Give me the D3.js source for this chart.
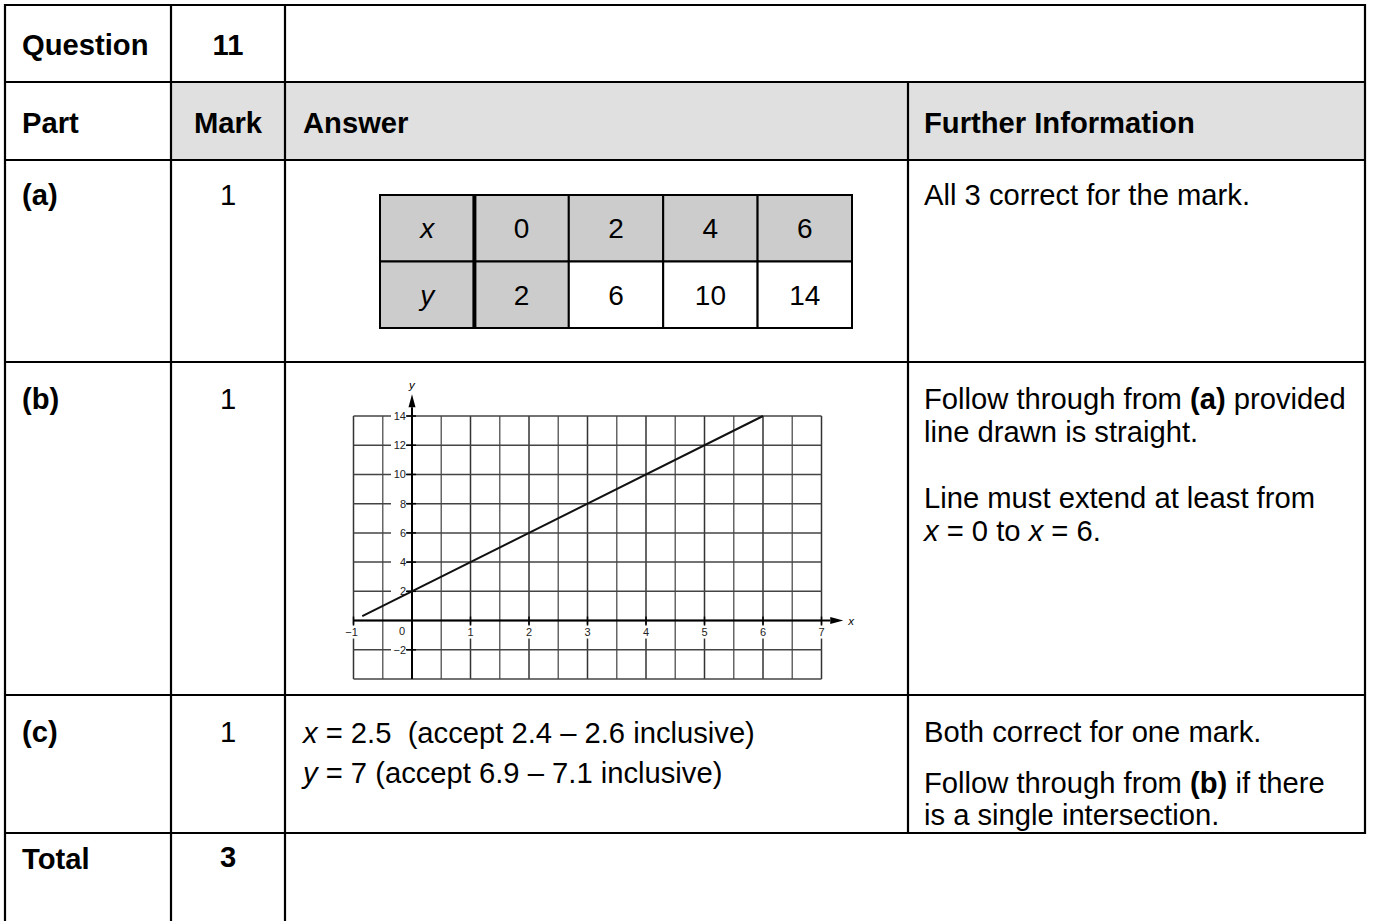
<!DOCTYPE html>
<html><head><meta charset="utf-8">
<script src="https://cdn.jsdelivr.net/npm/d3@7"></script>
<style>
body{margin:0;background:#fff;}
svg text{font-family:"Liberation Sans",Arial,sans-serif;white-space:pre;}
</style></head>
<body><svg id="c" width="1373" height="921"></svg>
<script>
// ---- data ----
const tableX = [0, 2, 4, 6];
const tableY = [2, 6, 10, 14];
const lineX = [-0.85, 6];
const lineY = [0.3, 14];
const xTicks = [-1, 0, 1, 2, 3, 4, 5, 6, 7];
const yTicks = [-2, 2, 4, 6, 8, 10, 12, 14];
const marks = ["1", "1", "1"];
const totalMark = "3";

const svg = d3.select("#c");
const FS = 29.2;
const black = "#000";

// ---- main table structure ----
const L = 5, R = 1365;
const colX = [L, 171, 285, 908, R];
const rowY = [5, 82, 160, 362, 695, 833, 921];

svg.append("rect").attr("x", colX[1]).attr("y", rowY[1]).attr("width", R - colX[1]).attr("height", rowY[2] - rowY[1]).attr("fill", "#e0e0e0");

function hline(y, x1, x2){ svg.append("line").attr("x1",x1).attr("x2",x2).attr("y1",y).attr("y2",y).attr("stroke",black).attr("stroke-width",2.2); }
function vline(x, y1, y2){ svg.append("line").attr("x1",x).attr("x2",x).attr("y1",y1).attr("y2",y2).attr("stroke",black).attr("stroke-width",2.2); }
rowY.slice(0,6).forEach(y => hline(y, L-1, R+1));
vline(L, rowY[0]-1, 921);
vline(colX[1], rowY[0]-1, 921);
vline(colX[2], rowY[0]-1, 921);
vline(colX[3], rowY[1], rowY[5]);
vline(R, rowY[0]-1, rowY[5]+1);

function txt(x, y, s, opts={}){
  const t = svg.append("text").attr("x", x).attr("y", y).attr("font-size", opts.fs || FS)
    .attr("fill", "#000").attr("text-anchor", opts.anchor || "start");
  if (opts.bold) t.attr("font-weight", "bold");
  if (opts.italic) t.attr("font-style", "italic");
  t.text(s);
  return t;
}
function rich(x, y, parts){
  const t = svg.append("text").attr("x", x).attr("y", y).attr("font-size", FS).attr("fill","#000");
  parts.forEach(p => {
    const ts = t.append("tspan").text(p[0]);
    if (p[1] === "b") ts.attr("font-weight","bold");
    if (p[1] === "i") ts.attr("font-style","italic");
  });
}

const midMark = (colX[1] + colX[2]) / 2;
txt(22, 55, "Question", {bold:true});
txt(midMark, 55, "11", {bold:true, anchor:"middle"});
txt(22, 133, "Part", {bold:true});
txt(midMark, 133, "Mark", {bold:true, anchor:"middle"});
txt(303, 133, "Answer", {bold:true});
txt(924, 133, "Further Information", {bold:true});

txt(22, 205, "(a)", {bold:true});
txt(22, 409, "(b)", {bold:true});
txt(22, 742, "(c)", {bold:true});
txt(22, 869, "Total", {bold:true});
[205, 409, 742].forEach((y, i) => txt(midMark, y, marks[i], {anchor:"middle"}));
txt(midMark, 867, totalMark, {bold:true, anchor:"middle"});

txt(924, 205, "All 3 correct for the mark.");
rich(924, 409, [["Follow through from "],["(a)","b"],[" provided"]]);
txt(924, 442, "line drawn is straight.");
txt(924, 508, "Line must extend at least from");
rich(924, 541, [["x","i"],[" = 0 to "],["x","i"],[" = 6."]]);
txt(924, 742, "Both correct for one mark.");
rich(924, 793, [["Follow through from "],["(b)","b"],[" if there"]]);
txt(924, 825, "is a single intersection.");

rich(303, 743, [["x","i"],[" = 2.5  (accept 2.4 \u2013 2.6 inclusive)"]]);
rich(303, 783, [["y","i"],[" = 7 (accept 6.9 \u2013 7.1 inclusive)"]]);

// ---- inner table (a) ----
const cols = ["label"].concat(tableX.map((d,i)=>i));
const cx = d3.scaleBand().domain(cols).range([380, 852]);
const ry = d3.scaleBand().domain(["x","y"]).range([195, 328]);
const g = svg.append("g");
["x","y"].forEach(r => {
  cols.forEach((c, ci) => {
    const gray = r === "x" || ci <= 1;
    g.append("rect").attr("x", cx(c)).attr("y", ry(r)).attr("width", cx.bandwidth()).attr("height", ry.bandwidth())
      .attr("fill", gray ? "#cccccc" : "#fff").attr("stroke", black).attr("stroke-width", 2);
    const s = ci === 0 ? r : String(r === "x" ? tableX[ci-1] : tableY[ci-1]);
    g.append("text").attr("x", cx(c) + cx.bandwidth()/2).attr("y", ry(r) + ry.bandwidth()/2 + 10)
      .attr("text-anchor","middle").attr("font-size", 28).attr("font-style", ci === 0 ? "italic" : "normal").text(s);
  });
});
g.append("line").attr("x1", cx(0)).attr("x2", cx(0)).attr("y1", 195).attr("y2", 328).attr("stroke", black).attr("stroke-width", 4);

// ---- graph (b) ----
const x = d3.scaleLinear().domain([-1, 7]).range([353.5, 821.5]);
const y = d3.scaleLinear().domain([-4, 14]).range([679, 416]);
const gg = svg.append("g");
const vx = d3.range(-1, 7.01, 0.5);
const hy = d3.range(-4, 14.01, 2);
gg.selectAll(".vg").data(vx).join("line").attr("x1", d => x(d)).attr("x2", d => x(d))
  .attr("y1", y(-4)).attr("y2", y(14)).attr("stroke", d => Number.isInteger(d) ? "#333" : "#666").attr("stroke-width", 1.5);
gg.selectAll(".hg").data(hy).join("line").attr("x1", x(-1)).attr("x2", x(7))
  .attr("y1", d => y(d)).attr("y2", d => y(d)).attr("stroke", "#444").attr("stroke-width", 1.5);

gg.append("line").attr("x1", x(-1)).attr("x2", x(7.15)).attr("y1", y(0)).attr("y2", y(0)).attr("stroke", black).attr("stroke-width", 2);
gg.append("line").attr("x1", x(0)).attr("x2", x(0)).attr("y1", y(-4)).attr("y2", y(14.6)).attr("stroke", black).attr("stroke-width", 2);
const ax = x(7.15), ay = y(0);
gg.append("path").attr("d", `M${ax},${ay-3.5} L${ax+13},${ay} L${ax},${ay+3.5} Z`).attr("fill", black);
const bx = x(0), by = y(14.6);
gg.append("path").attr("d", `M${bx-3.5},${by} L${bx},${by-13} L${bx+3.5},${by} Z`).attr("fill", black);
gg.append("text").attr("x", ax + 18).attr("y", ay + 4).attr("font-size", 11.5).attr("font-style","italic").text("x");
gg.append("text").attr("x", bx - 3).attr("y", by - 18).attr("font-size", 11.5).attr("font-style","italic").text("y");

yTicks.forEach(v => {
  const yy = y(v);
  gg.append("rect").attr("x", x(0) - 21).attr("y", yy - 6).attr("width", 16).attr("height", 12).attr("fill", "#fff");
  gg.append("line").attr("x1", x(0) - 6).attr("x2", x(0) + 4).attr("y1", yy).attr("y2", yy).attr("stroke", black).attr("stroke-width", 1.5);
  gg.append("text").attr("x", x(0) - 6).attr("y", yy + 4).attr("text-anchor", "end").attr("font-size", 11).attr("fill", "#222")
    .text(v < 0 ? "\u2212" + Math.abs(v) : String(v));
});
xTicks.forEach(v => {
  const xx = x(v);
  if (v !== 0) {
    gg.append("rect").attr("x", xx - 7).attr("y", y(0) + 4).attr("width", 14).attr("height", 14).attr("fill", "#fff");
    gg.append("line").attr("x1", xx).attr("x2", xx).attr("y1", y(0) - 4).attr("y2", y(0) + 5).attr("stroke", black).attr("stroke-width", 1.5);
    gg.append("text").attr("x", v < 0 ? xx - 2 : xx).attr("y", y(0) + 15).attr("text-anchor", "middle").attr("font-size", 11).attr("fill", "#222")
      .text(v < 0 ? "\u2212" + Math.abs(v) : String(v));
  } else {
    gg.append("rect").attr("x", xx - 16).attr("y", y(0) + 3).attr("width", 12).attr("height", 14).attr("fill", "#fff");
    gg.append("text").attr("x", xx - 10).attr("y", y(0) + 14).attr("text-anchor", "middle").attr("font-size", 11).attr("fill", "#222").text("0");
  }
});

const pts = lineX.map((d, i) => [d, lineY[i]]);
gg.append("path").datum(pts).attr("d", d3.line().x(d => x(d[0])).y(d => y(d[1])))
  .attr("fill", "none").attr("stroke", "#111").attr("stroke-width", 2);
</script></body></html>
